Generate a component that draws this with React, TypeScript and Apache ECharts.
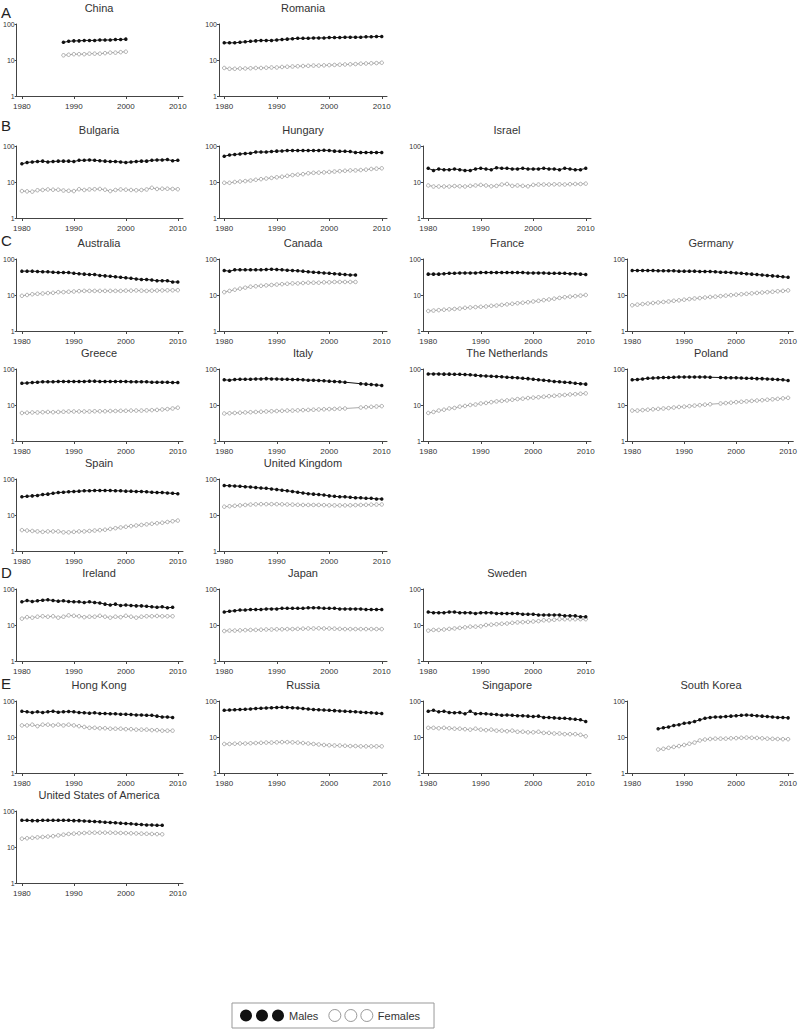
import React, { useEffect, useRef } from "react";
import * as echarts from "echarts";

// ---------- data (rate per 100 000, log scale) ----------
const yearTicks = [1980, 1990, 2000, 2010];
const seriesNames = ["Males", "Females"];

const chinaStart = 1988;
const chinaMales = [31, 33, 34, 34, 35, 35, 35, 36, 36, 36, 37, 37, 38];
const chinaFemales = [13.5, 14, 14.5, 14.5, 14.5, 15, 15, 15, 15.5, 16, 16, 16.5, 17];

const romaniaStart = 1980;
const romaniaMales = [30, 30, 30, 31, 32, 33, 34, 35, 35, 35, 36, 37, 38, 39, 40, 40, 40, 41, 41, 41, 42, 42, 42, 43, 43, 43, 43, 44, 44, 45, 45];
const romaniaFemales = [6, 5.7, 5.7, 5.8, 5.8, 5.9, 6, 6, 6.1, 6.2, 6.2, 6.4, 6.5, 6.6, 6.7, 6.8, 6.9, 7, 7, 7.1, 7.2, 7.3, 7.4, 7.5, 7.6, 7.7, 7.9, 8, 8.1, 8.2, 8.4];

const bulgariaStart = 1980;
const bulgariaMales = [32, 35, 36, 37, 38, 36, 37, 38, 38, 38, 37, 40, 40, 41, 40, 39, 38, 37, 37, 36, 35, 36, 37, 38, 38, 40, 41, 41, 42, 39, 40];
const bulgariaFemales = [5.6, 5.5, 5.4, 5.9, 6, 6.2, 6.1, 6.1, 5.8, 5.7, 5.6, 6.3, 6, 6.2, 6.3, 6.4, 6.1, 5.6, 6, 6.2, 6.1, 6, 5.9, 6, 6.2, 6.9, 6.4, 6.5, 6.5, 6.4, 6.3];

const hungaryStart = 1980;
const hungaryMales = [52, 56, 58, 60, 62, 63, 68, 68, 68, 70, 72, 73, 75, 75, 75, 75, 75, 75, 75, 76, 75, 72, 71, 71, 70, 66, 66, 66, 66, 66, 66];
const hungaryFemales = [9.5, 9.5, 10, 10.3, 10.6, 11, 11.5, 12, 12.5, 13, 13.5, 14, 14.8, 15.5, 16, 16.5, 17.5, 18, 18.2, 18.5, 19, 19.5, 20, 20.5, 21, 21, 21.5, 22, 23, 23.5, 24];

const israelStart = 1980;
const israelMales = [24, 21, 23, 22, 22, 23, 22, 21, 21, 23, 24, 23, 22, 25, 24, 24, 23, 23, 24, 23, 23, 23, 24, 23, 23, 22, 24, 23, 22, 22, 24];
const israelFemales = [8, 7.5, 7.5, 7.5, 7.5, 7.7, 7.6, 7.5, 7.8, 8, 8.3, 8, 7.6, 7.8, 8.5, 8.8, 7.8, 8, 7.8, 7.6, 8.3, 8.5, 8.5, 8.5, 8.6, 8.6, 8.5, 8.7, 8.8, 8.8, 9];

const australiaStart = 1980;
const australiaMales = [46, 46, 46, 45, 44, 44, 43, 42, 42, 42, 40, 39, 38, 37, 37, 35, 34, 33, 32, 31, 30, 29, 28, 27, 27, 26, 25, 25, 25, 23, 23];
const australiaFemales = [9.5, 10, 10.5, 10.8, 11, 11.3, 11.5, 12, 12, 12.3, 12.5, 12.8, 13, 13, 13, 13, 13, 13, 13, 13, 13.2, 13.2, 13.4, 13.2, 13, 13.2, 13.3, 13.4, 13.5, 13.5, 13.6];

const canadaStart = 1980;
const canadaMales = [48, 46, 50, 50, 50, 50, 50, 50, 51, 52, 51, 50, 49, 48, 47, 46, 44, 43, 42, 41, 40, 39, 38, 37, 36, 36];
const canadaFemales = [12, 13, 14, 15, 16, 17, 17.5, 18, 18.5, 19, 19.5, 20, 20.5, 21, 21, 21.5, 22, 22, 22, 22.5, 22.5, 23, 23, 23, 23, 23];

const franceStart = 1980;
const franceMales = [38, 38, 38, 39, 40, 40, 41, 41, 41, 41, 42, 42, 42, 42, 42, 42, 42, 42, 42, 41, 41, 41, 41, 40, 40, 40, 40, 39, 39, 38, 37];
const franceFemales = [3.6, 3.7, 3.8, 3.9, 4, 4.1, 4.2, 4.4, 4.5, 4.6, 4.7, 4.8, 5, 5.1, 5.3, 5.5, 5.7, 5.9, 6.1, 6.3, 6.6, 6.9, 7.2, 7.5, 7.9, 8.3, 8.7, 9, 9.3, 9.6, 10];

const germanyStart = 1980;
const germanyMales = [48, 48, 48, 48, 48, 47, 47, 47, 47, 46, 46, 46, 46, 45, 45, 45, 44, 43, 43, 42, 41, 40, 39, 38, 37, 36, 35, 34, 33, 32, 31];
const germanyFemales = [5.2, 5.4, 5.6, 5.8, 6, 6.2, 6.4, 6.6, 6.9, 7.1, 7.4, 7.7, 8, 8.2, 8.5, 8.8, 9, 9.3, 9.6, 9.9, 10.2, 10.5, 10.8, 11.1, 11.4, 11.7, 12, 12.3, 12.7, 13, 13.4];

const greeceStart = 1980;
const greeceMales = [40, 41, 42, 43, 44, 44, 44, 45, 45, 45, 45, 45, 45, 46, 46, 45, 45, 45, 45, 45, 45, 44, 44, 44, 44, 43, 43, 43, 43, 42, 42];
const greeceFemales = [6, 6.1, 6.2, 6.2, 6.3, 6.4, 6.3, 6.4, 6.5, 6.6, 6.6, 6.6, 6.6, 6.6, 6.7, 6.7, 6.7, 6.8, 6.8, 6.9, 6.9, 7, 7, 7, 7.1, 7.2, 7.3, 7.5, 7.7, 8, 8.4];

const italyStart = 1980;
const italyMales = [50, 49, 51, 52, 52, 52, 53, 53, 54, 53, 53, 52, 52, 51, 51, 50, 49, 49, 48, 47, 46, 45, 44, 43, null, null, 39, 38, 37, 36, 35];
const italyFemales = [5.8, 5.9, 6, 6.1, 6.2, 6.3, 6.4, 6.5, 6.6, 6.7, 6.8, 6.9, 7, 7, 7.1, 7.2, 7.3, 7.4, 7.5, 7.6, 7.7, 7.8, 7.9, 8, null, null, 8.5, 8.7, 8.9, 9.1, 9.3];

const netherlandsStart = 1980;
const netherlandsMales = [73, 73, 73, 72, 72, 71, 71, 70, 69, 67, 65, 64, 63, 62, 61, 59, 58, 57, 55, 54, 52, 50, 49, 47, 45, 44, 43, 42, 40, 39, 38];
const netherlandsFemales = [6, 6.4, 7, 7.4, 8, 8.3, 9, 9.4, 10, 10.3, 11, 11.4, 12, 12.6, 13, 13.4, 14, 14.6, 15, 15.6, 16, 16.4, 17, 17.6, 18, 18.6, 19, 19.6, 20, 20.5, 21];

const polandStart = 1980;
const polandMales = [50, 51, 53, 55, 56, 57, 58, 58, 59, 60, 60, 60, 60, 60, 60, 59, null, 58, 57, 57, 57, 56, 55, 55, 54, 54, 53, 52, 51, 50, 48];
const polandFemales = [7, 7, 7.2, 7.4, 7.6, 7.8, 8, 8.2, 8.5, 8.8, 9, 9.3, 9.6, 9.9, 10.2, 10.5, null, 11, 11.3, 11.6, 12, 12.3, 12.6, 13, 13.3, 13.6, 14, 14.4, 14.8, 15.3, 15.8];

const spainStart = 1980;
const spainMales = [32, 33, 34, 35, 37, 38, 40, 42, 43, 44, 45, 46, 47, 47, 48, 48, 48, 48, 47, 47, 46, 46, 45, 45, 44, 43, 42, 42, 41, 40, 39];
const spainFemales = [3.8, 3.7, 3.6, 3.5, 3.4, 3.5, 3.5, 3.5, 3.3, 3.3, 3.4, 3.5, 3.5, 3.6, 3.7, 3.8, 3.9, 4.1, 4.3, 4.5, 4.7, 4.9, 5.1, 5.3, 5.5, 5.7, 5.9, 6.1, 6.4, 6.7, 7];

const ukStart = 1980;
const ukMales = [66, 65, 64, 63, 61, 60, 58, 56, 55, 53, 51, 49, 47, 45, 43, 41, 39, 38, 37, 36, 34, 33, 32, 32, 31, 30, 30, 29, 29, 28, 28];
const ukFemales = [17, 17.5, 18, 18.5, 19, 19.5, 19.8, 20, 20, 20, 20, 19.8, 19.6, 19.4, 19.2, 19, 19, 19, 19, 18.8, 18.6, 18.5, 18.5, 18.5, 18.6, 18.8, 19, 19.2, 19.4, 19.5, 19.6];

const irelandStart = 1980;
const irelandMales = [44, 48, 45, 47, 49, 50, 48, 46, 47, 45, 44, 44, 42, 44, 42, 41, 38, 36, 38, 35, 36, 35, 34, 34, 33, 32, 31, 32, 30, 31];
const irelandFemales = [15, 16.5, 16, 17, 17.5, 17, 17.5, 16, 17, 18.5, 18, 17.5, 16.5, 17, 17, 18, 17, 16, 17, 16.5, 18, 17, 16, 17, 17.5, 17.5, 17.8, 17.5, 17.5, 17.5];

const japanStart = 1980;
const japanMales = [23, 24, 25, 26, 26, 27, 27, 27, 28, 28, 28, 29, 29, 29, 29, 29, 30, 30, 30, 29, 29, 29, 28, 28, 28, 28, 28, 27, 27, 27, 27];
const japanFemales = [6.8, 7, 7, 7.1, 7.2, 7.3, 7.3, 7.4, 7.5, 7.5, 7.6, 7.6, 7.7, 7.7, 7.8, 7.9, 8, 8, 8.1, 8, 8, 7.9, 7.8, 7.7, 7.7, 7.7, 7.7, 7.7, 7.7, 7.7, 7.7];

const swedenStart = 1980;
const swedenMales = [23, 22, 22, 22, 23, 23, 22, 22, 22, 21, 22, 22, 22, 21, 21, 21, 21, 21, 20, 20, 20, 19, 19, 19, 19, 19, 18, 18, 18, 17, 17];
const swedenFemales = [7, 7.3, 7.3, 7.5, 7.8, 8, 8.3, 8.6, 9, 9, 9.2, 10, 10.2, 10.5, 10.8, 11, 11.5, 11.8, 12, 12.2, 12.5, 12.8, 13.5, 13.5, 14, 14.5, 14.5, 14.5, 14.5, 14.5, 14.5];

const hongKongStart = 1980;
const hongKongMales = [52, 50, 48, 50, 48, 50, 52, 49, 50, 51, 50, 48, 47, 46, 47, 45, 45, 44, 44, 43, 43, 42, 41, 41, 40, 40, 38, 36, 36, 35];
const hongKongFemales = [21, 21, 22, 20, 22, 22, 21, 22, 21, 22, 21, 20, 19, 18, 18, 17.5, 17.5, 17, 17, 17, 16.5, 16.5, 16, 16, 16, 15.5, 15.5, 15, 15, 15];

const russiaStart = 1980;
const russiaMales = [55, 56, 57, 58, 59, 60, 62, 63, 64, 65, 66, 67, 66, 65, 64, 62, 60, 58, 57, 56, 55, 54, 53, 52, 51, 50, 49, 48, 47, 46, 45];
const russiaFemales = [6.4, 6.4, 6.5, 6.6, 6.6, 6.7, 6.8, 6.9, 7, 7, 7.1, 7.2, 7.2, 7.1, 7, 6.8, 6.6, 6.4, 6.2, 6, 5.9, 5.8, 5.8, 5.7, 5.6, 5.6, 5.5, 5.5, 5.5, 5.5, 5.5];

const singaporeStart = 1980;
const singaporeMales = [52, 55, 50, 52, 48, 47, 48, 44, 52, 44, 45, 44, 43, 42, 40, 41, 40, 39, 39, 38, 37, 38, 35, 35, 34, 33, 33, 32, 31, 30, 27];
const singaporeFemales = [18, 18, 17.5, 18, 17.5, 17, 17, 16.5, 16, 17, 16, 15.5, 16, 15, 15, 14.5, 15, 14, 14, 13.5, 13.5, 14, 13, 13, 12.5, 12.5, 12, 12, 12, 11.5, 10.5];

const southKoreaStart = 1985;
const southKoreaMales = [17, 18, 19, 21, 22, 24, 25, 27, 30, 33, 35, 36, 36, 37, 38, 39, 40, 41, 40, 39, 38, 37, 36, 35, 35, 34];
const southKoreaFemales = [4.5, 4.7, 5, 5.3, 5.6, 6, 6.5, 7, 8, 8.5, 8.8, 9, 9, 9, 9.2, 9.3, 9.5, 9.6, 9.5, 9.4, 9.2, 9, 8.9, 8.8, 8.7, 8.7];

const usaStart = 1980;
const usaMales = [55, 55, 54, 54, 55, 55, 55, 55, 55, 55, 54, 54, 53, 52, 51, 50, 49, 48, 47, 46, 45, 44, 43, 42, 41, 41, 40, 40];
const usaFemales = [17, 17.5, 18, 18.5, 19, 19.5, 20, 21, 22, 23, 23.5, 24, 24.5, 25, 25, 25, 25, 25, 24.8, 24.5, 24.3, 24, 23.8, 23.5, 23.3, 23, 22.8, 22.5];

// ---------- layout ----------
const rowTops = [8, 130, 243, 353, 463, 573, 685, 795];
const colLefts = [15, 219, 423, 627];
const groupLetters = [
  { text: "A", y: 12 },
  { text: "B", y: 125 },
  { text: "C", y: 240 },
  { text: "D", y: 572 },
  { text: "E", y: 683 },
];

type Panel = { name: string; start: number; males: (number | null)[]; females: (number | null)[]; row: number; col: number };

const panels: Panel[] = [
  { name: "China", start: chinaStart, males: chinaMales, females: chinaFemales, row: 0, col: 0 },
  { name: "Romania", start: romaniaStart, males: romaniaMales, females: romaniaFemales, row: 0, col: 1 },
  { name: "Bulgaria", start: bulgariaStart, males: bulgariaMales, females: bulgariaFemales, row: 1, col: 0 },
  { name: "Hungary", start: hungaryStart, males: hungaryMales, females: hungaryFemales, row: 1, col: 1 },
  { name: "Israel", start: israelStart, males: israelMales, females: israelFemales, row: 1, col: 2 },
  { name: "Australia", start: australiaStart, males: australiaMales, females: australiaFemales, row: 2, col: 0 },
  { name: "Canada", start: canadaStart, males: canadaMales, females: canadaFemales, row: 2, col: 1 },
  { name: "France", start: franceStart, males: franceMales, females: franceFemales, row: 2, col: 2 },
  { name: "Germany", start: germanyStart, males: germanyMales, females: germanyFemales, row: 2, col: 3 },
  { name: "Greece", start: greeceStart, males: greeceMales, females: greeceFemales, row: 3, col: 0 },
  { name: "Italy", start: italyStart, males: italyMales, females: italyFemales, row: 3, col: 1 },
  { name: "The Netherlands", start: netherlandsStart, males: netherlandsMales, females: netherlandsFemales, row: 3, col: 2 },
  { name: "Poland", start: polandStart, males: polandMales, females: polandFemales, row: 3, col: 3 },
  { name: "Spain", start: spainStart, males: spainMales, females: spainFemales, row: 4, col: 0 },
  { name: "United Kingdom", start: ukStart, males: ukMales, females: ukFemales, row: 4, col: 1 },
  { name: "Ireland", start: irelandStart, males: irelandMales, females: irelandFemales, row: 5, col: 0 },
  { name: "Japan", start: japanStart, males: japanMales, females: japanFemales, row: 5, col: 1 },
  { name: "Sweden", start: swedenStart, males: swedenMales, females: swedenFemales, row: 5, col: 2 },
  { name: "Hong Kong", start: hongKongStart, males: hongKongMales, females: hongKongFemales, row: 6, col: 0 },
  { name: "Russia", start: russiaStart, males: russiaMales, females: russiaFemales, row: 6, col: 1 },
  { name: "Singapore", start: singaporeStart, males: singaporeMales, females: singaporeFemales, row: 6, col: 2 },
  { name: "South Korea", start: southKoreaStart, males: southKoreaMales, females: southKoreaFemales, row: 6, col: 3 },
  { name: "United States of America", start: usaStart, males: usaMales, females: usaFemales, row: 7, col: 0 },
];

const FONT = "'Liberation Sans', Arial, sans-serif";
const PLOT_W = 168;
const PLOT_H = 72;
const AXIS_COLOR = "#444";

const toPairs = (start: number, vals: (number | null)[]) =>
  vals.map((v, i) => [start + i, v === null ? "-" : v]);

const threeDots =
  "path://M6,0A6,6 0 1,1 6,12A6,6 0 1,1 6,0Z M22,0A6,6 0 1,1 22,12A6,6 0 1,1 22,0Z M38,0A6,6 0 1,1 38,12A6,6 0 1,1 38,0Z";

function buildOption() {
  const grid: any[] = [];
  const xAxis: any[] = [];
  const yAxis: any[] = [];
  const series: any[] = [];
  const graphic: any[] = [];

  panels.forEach((p, i) => {
    const left = colLefts[p.col];
    const top = rowTops[p.row];
    grid.push({ left, top: top + 16, width: PLOT_W, height: PLOT_H });
    xAxis.push({
      gridIndex: i,
      type: "value",
      min: 1979,
      max: 2011,
      axisLine: { show: true, lineStyle: { color: AXIS_COLOR, width: 1 } },
      axisTick: { show: true, length: 3, customValues: yearTicks, lineStyle: { color: AXIS_COLOR } },
      axisLabel: {
        customValues: yearTicks,
        fontSize: 8,
        color: "#333",
        margin: 6,
        fontFamily: FONT,
        formatter: (v: number) => String(v),
      },
      splitLine: { show: false },
    });
    yAxis.push({
      gridIndex: i,
      type: "log",
      logBase: 10,
      min: 1,
      max: 100,
      axisLine: { show: true, lineStyle: { color: AXIS_COLOR, width: 1 } },
      axisTick: { show: true, length: 2, lineStyle: { color: AXIS_COLOR } },
      axisLabel: { fontSize: 7, color: "#333", margin: 2, fontFamily: FONT, formatter: (v: number) => String(Math.round(v)) },
      splitLine: { show: false },
    });
    series.push({
      name: seriesNames[1],
      type: "line",
      xAxisIndex: i,
      yAxisIndex: i,
      data: toPairs(p.start, p.females),
      connectNulls: true,
      symbol: "circle",
      symbolSize: 3.5,
      showSymbol: true,
      itemStyle: { color: "#fff", borderColor: "#999", borderWidth: 0.8 },
      lineStyle: { color: "#aaa", width: 1 },
      z: 2,
    });
    series.push({
      name: seriesNames[0],
      type: "line",
      xAxisIndex: i,
      yAxisIndex: i,
      data: toPairs(p.start, p.males),
      connectNulls: true,
      symbol: "circle",
      symbolSize: 3.5,
      showSymbol: true,
      itemStyle: { color: "#111", borderColor: "#111", borderWidth: 0 },
      lineStyle: { color: "#111", width: 1 },
      z: 3,
    });
    graphic.push({
      type: "text",
      x: left + 84,
      y: top,
      style: {
        text: p.name,
        fontSize: 11,
        fontFamily: FONT,
        fill: "#333",
        textAlign: "center",
        textVerticalAlign: "middle",
      },
    });
  });

  groupLetters.forEach((g) => {
    graphic.push({
      type: "text",
      x: 1,
      y: g.y,
      style: { text: g.text, fontSize: 15, fontFamily: FONT, fill: "#222", textVerticalAlign: "middle" },
    });
  });

  return {
    animation: false,
    backgroundColor: "#fff",
    grid,
    xAxis,
    yAxis,
    series,
    graphic,
    legend: {
      left: 232,
      top: 1003,
      orient: "horizontal",
      icon: threeDots,
      itemWidth: 44,
      itemHeight: 12,
      itemGap: 10,
      padding: [6, 14, 6, 8],
      borderColor: "#999",
      borderWidth: 1,
      textStyle: { fontSize: 11, color: "#333", fontFamily: FONT },
      data: [
        { name: seriesNames[0], itemStyle: { color: "#111", borderColor: "#111", borderWidth: 0 } },
        { name: seriesNames[1], itemStyle: { color: "#fff", borderColor: "#999", borderWidth: 1 } },
      ],
    },
  };
}

export default function App() {
  const ref = useRef<HTMLDivElement>(null);
  useEffect(() => {
    if (!ref.current) return;
    const chart = echarts.init(ref.current, undefined, { renderer: "svg" });
    chart.setOption(buildOption() as any);
    return () => chart.dispose();
  }, []);
  return (
    <div
      ref={ref}
      style={{ position: "absolute", left: 0, top: 0, width: 800, height: 1031, background: "#fff" }}
    />
  );
}
